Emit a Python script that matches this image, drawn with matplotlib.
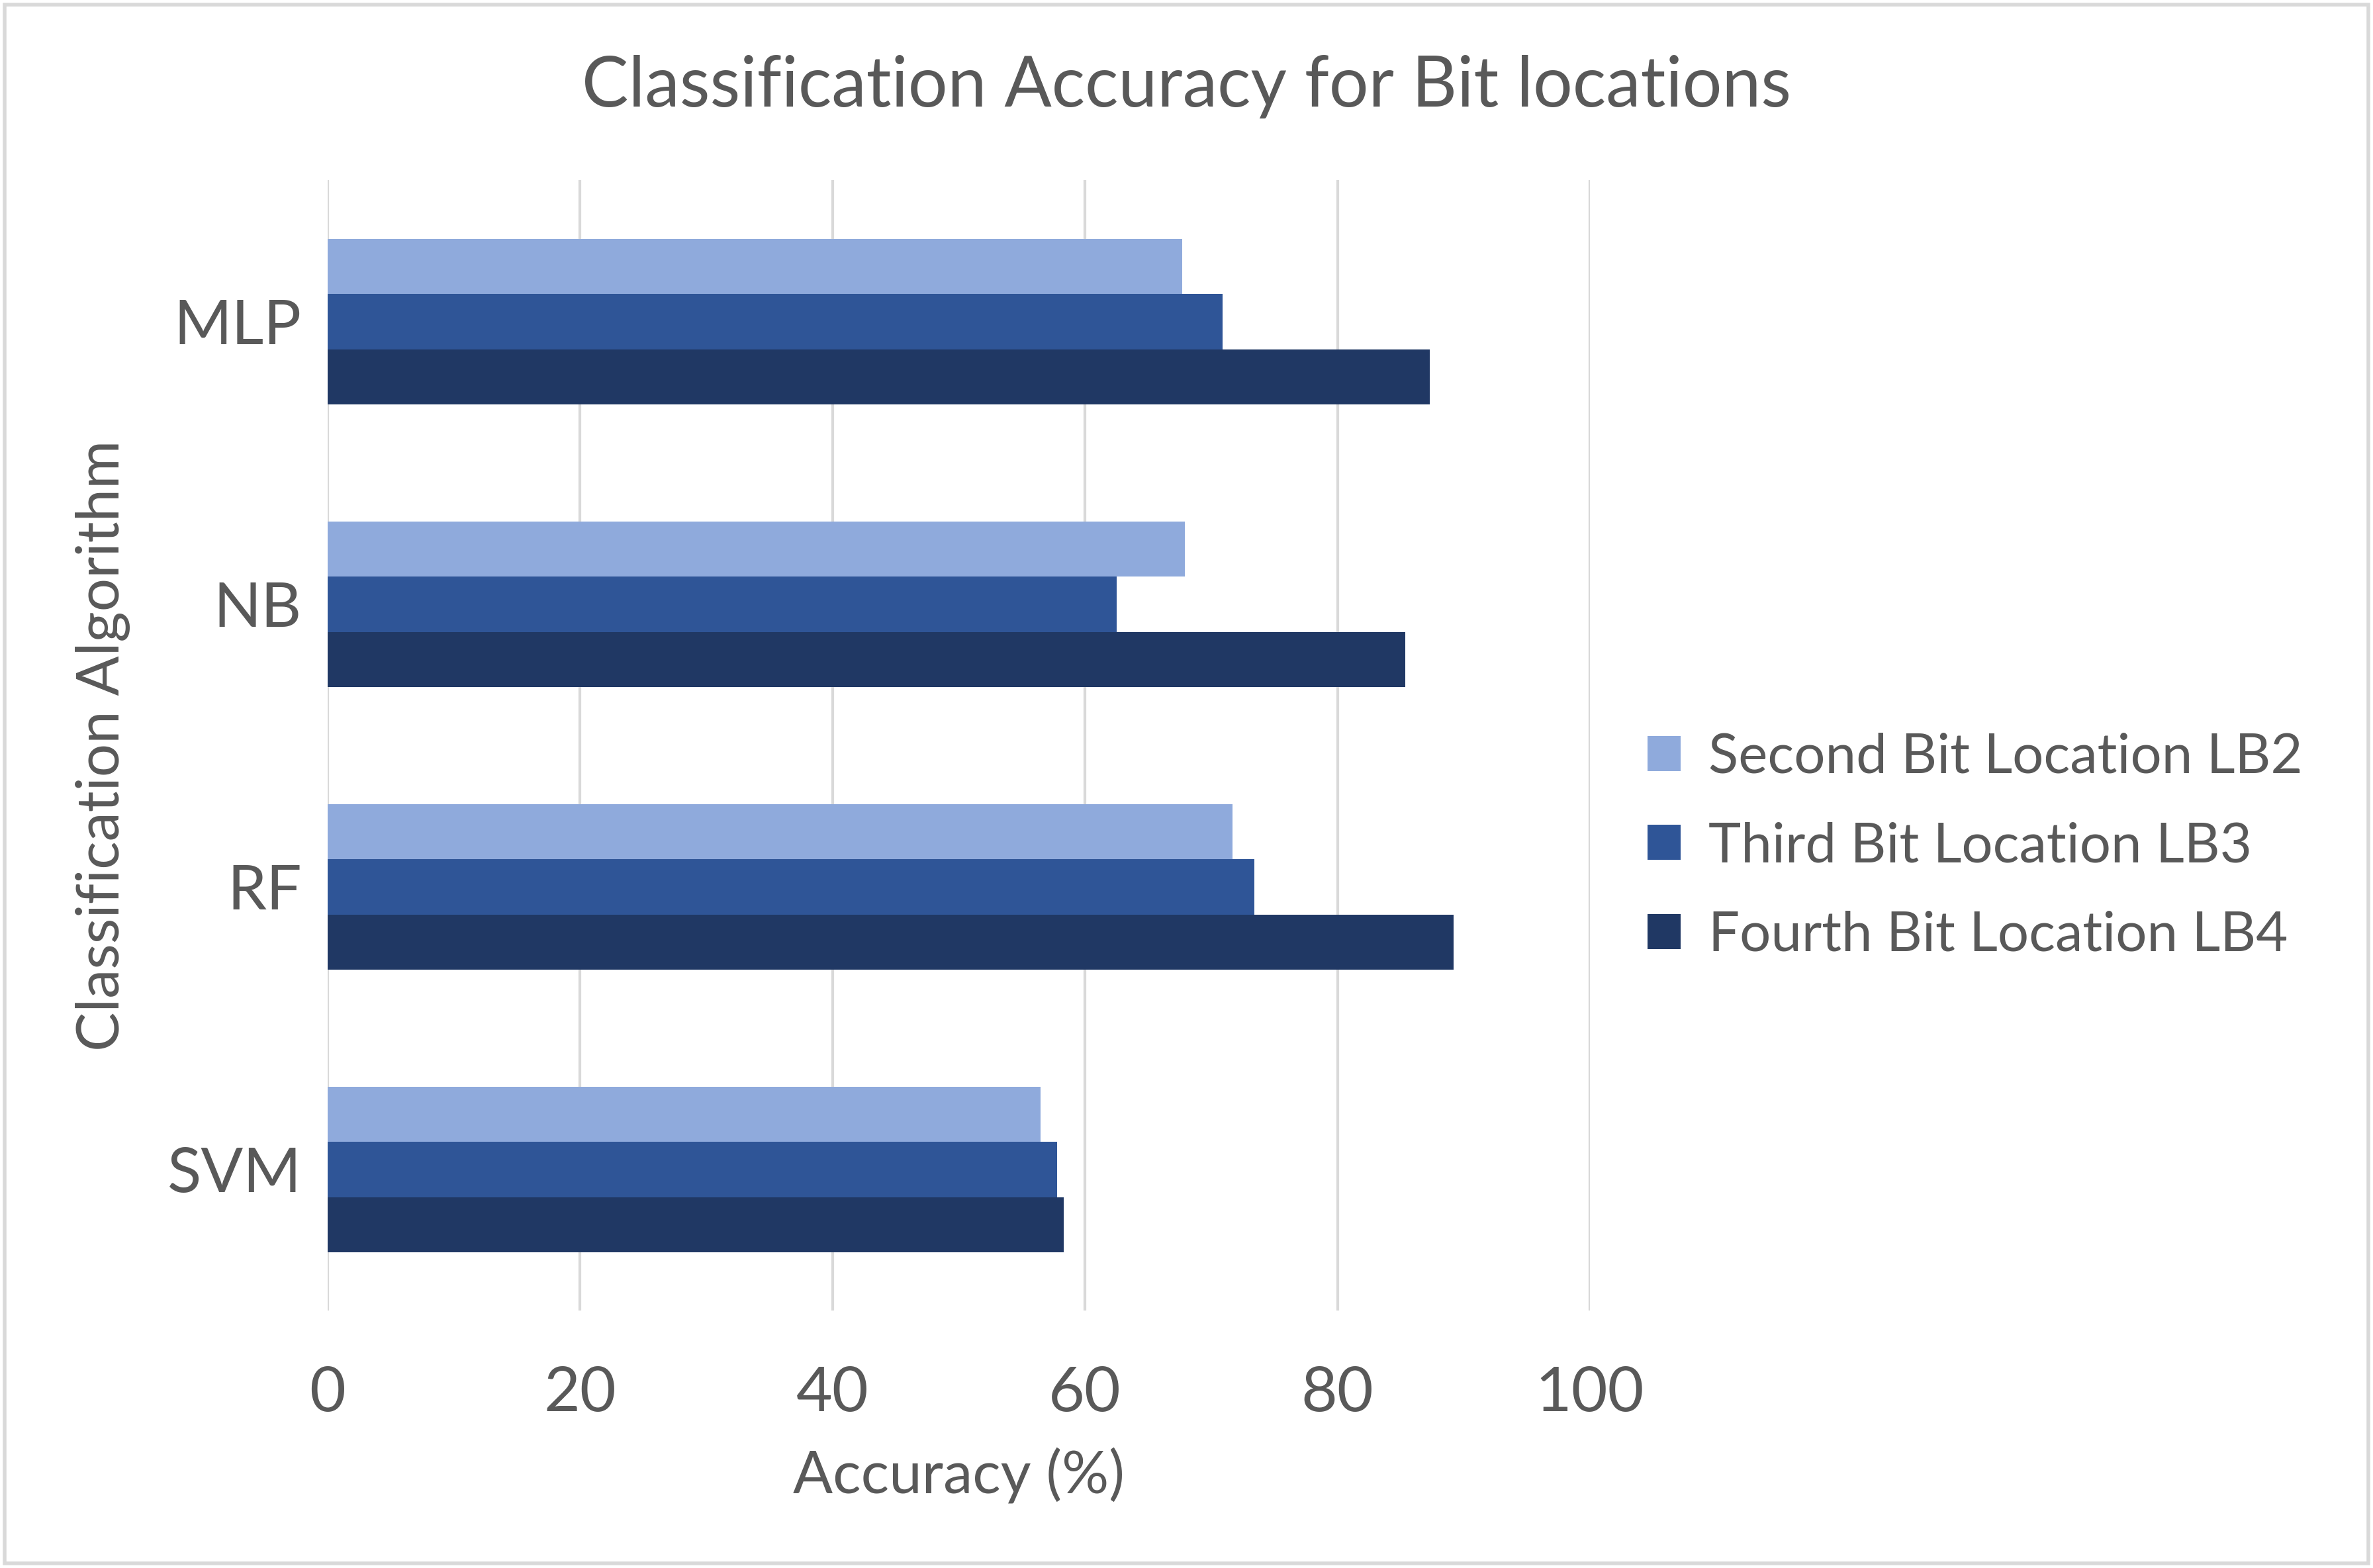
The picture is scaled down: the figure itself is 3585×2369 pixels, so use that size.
import matplotlib.pyplot as plt
import numpy as np

algorithms = ["MLP", "NB", "RF", "SVM"]
lb2 = [67.7, 67.9, 71.7, 56.5]
lb3 = [70.9, 62.5, 73.4, 57.8]
lb4 = [87.3, 85.4, 89.2, 58.3]
series = [("Second Bit Location LB2", lb2, "#8FAADC"),
          ("Third Bit Location LB3", lb3, "#2F5597"),
          ("Fourth Bit Location LB4", lb4, "#203864")]

plt.rcParams['font.family'] = ['Lato', 'DejaVu Sans']
fig = plt.figure(figsize=(17.925, 11.845), dpi=200)
ax = fig.add_axes([0.138, 0.164, 0.532, 0.721])

y = np.arange(len(algorithms))[::-1].astype(float)
h = 0.195
for i, (name, vals, col) in enumerate(series):
    ax.barh(y + (1 - i) * h, vals, height=h, color=col, label=name, zorder=3)

ax.set_xlim(0, 100)
ax.set_ylim(-0.5, 3.5)
ax.set_xticks(range(0, 101, 20))
ax.set_yticks(y)
ax.set_yticklabels(algorithms)
ax.grid(axis='x', color='#D9D9D9', linewidth=1.5, zorder=0)
for s in ax.spines.values():
    s.set_visible(False)
ax.tick_params(length=0, labelsize=34, labelcolor='#595959', pad=14)
ax.tick_params(axis='x', pad=30)
ax.set_xlabel("Accuracy (%)", fontsize=32, color='#595959', labelpad=14)
ax.set_ylabel("Classification Algorithm", fontsize=32, color='#595959', labelpad=20)
fig.suptitle("Classification Accuracy for Bit locations", fontsize=38, color='#595959', y=0.965)
fig.legend(loc='center left', bbox_to_anchor=(0.685, 0.46), frameon=False,
           fontsize=30, labelcolor='#595959', handlelength=0.6, handleheight=0.6,
           handletextpad=0.5, labelspacing=0.7, borderaxespad=0)
fig.patches.append(plt.Rectangle((0.002, 0.003), 0.996, 0.994, transform=fig.transFigure,
                                 fill=False, edgecolor='#D9D9D9', linewidth=2))
fig.savefig("out.png")
